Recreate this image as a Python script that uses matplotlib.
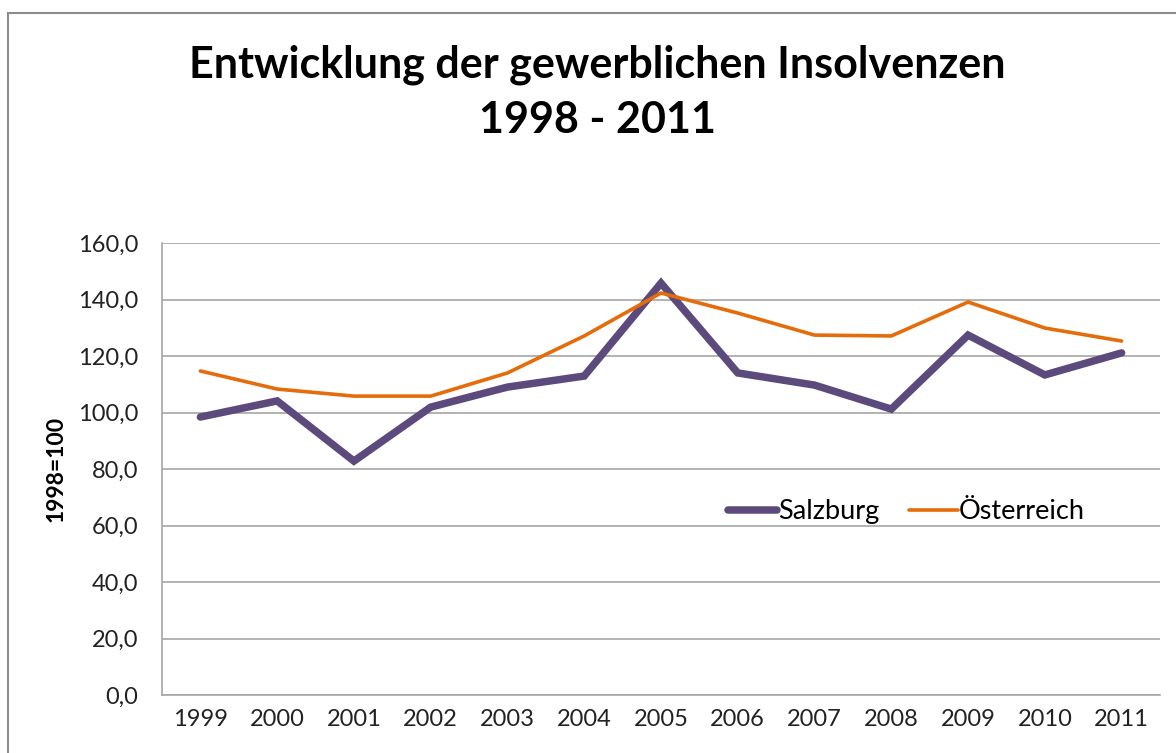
import matplotlib
matplotlib.use("Agg")
import matplotlib.pyplot as plt
from matplotlib.patches import Rectangle
from matplotlib.ticker import FuncFormatter

# ── Daten ─────────────────────────────────────────────────────────────────────
jahre = ["1999", "2000", "2001", "2002", "2003", "2004", "2005",
         "2006", "2007", "2008", "2009", "2010", "2011"]
salzburg = [98.4, 104.1, 82.8, 101.9, 109.0, 112.9, 145.8,
            114.0, 109.7, 101.2, 127.4, 113.3, 121.1]
oesterreich = [114.7, 108.3, 105.8, 105.8, 114.0, 127.1, 142.3,
               135.2, 127.4, 127.1, 139.1, 129.9, 125.3]

plt.rcParams["font.family"] = ["Lato", "DejaVu Sans"]

fig = plt.figure(figsize=(11.76, 7.53), dpi=100)
fig.patch.set_facecolor("white")

# Rahmen des Diagrammbereichs (rechts/unten abgeschnitten)
fig.patches.append(Rectangle((8 / 1176, -0.1), 1.2, 1 - 13 / 753 + 0.1,
                             transform=fig.transFigure, fill=False,
                             edgecolor="#8c8c8c", linewidth=1.5))

ax = fig.add_axes([162 / 1176, 1 - 695 / 753, 998 / 1176, 452 / 753])
x = range(len(jahre))
ax.plot(x, salzburg, color="#5c4a7d", linewidth=5.4, label="Salzburg",
        solid_joinstyle="miter", solid_capstyle="round")
ax.plot(x, oesterreich, color="#e46c0a", linewidth=2.6, label="Österreich",
        solid_capstyle="round")

ax.set_xlim(-0.5, len(jahre) - 0.5)
ax.set_ylim(0, 160)
ax.set_yticks(range(0, 161, 20))
ax.yaxis.set_major_formatter(FuncFormatter(lambda v, p: f"{v:.1f}".replace(".", ",")))
ax.set_xticks(list(x))
ax.set_xticklabels(jahre)
ax.tick_params(axis="both", length=0, labelsize=17, colors="#222222")
ax.tick_params(axis="x", pad=10)
ax.tick_params(axis="y", pad=17)

ax.grid(axis="y", color="#a6a6a6", linewidth=1.2)
ax.set_axisbelow(True)
for s in ["top", "right"]:
    ax.spines[s].set_visible(False)
for s in ["left", "bottom"]:
    ax.spines[s].set_color("#a6a6a6")
    ax.spines[s].set_linewidth(1.2)

ax.set_ylabel("1998=100", fontsize=16.5, fontweight="bold", labelpad=8)

ax.legend(loc="center", bbox_to_anchor=(0.746, 0.405), ncol=2, frameon=False,
          fontsize=19.5, handlelength=1.8, handletextpad=0.05, columnspacing=1.1)

fig.text(0.508, 0.878, "Entwicklung der gewerblichen Insolvenzen\n1998 - 2011",
         ha="center", va="center", fontsize=31, fontweight="bold",
         linespacing=1.45)

fig.savefig("out.png", dpi=100)
